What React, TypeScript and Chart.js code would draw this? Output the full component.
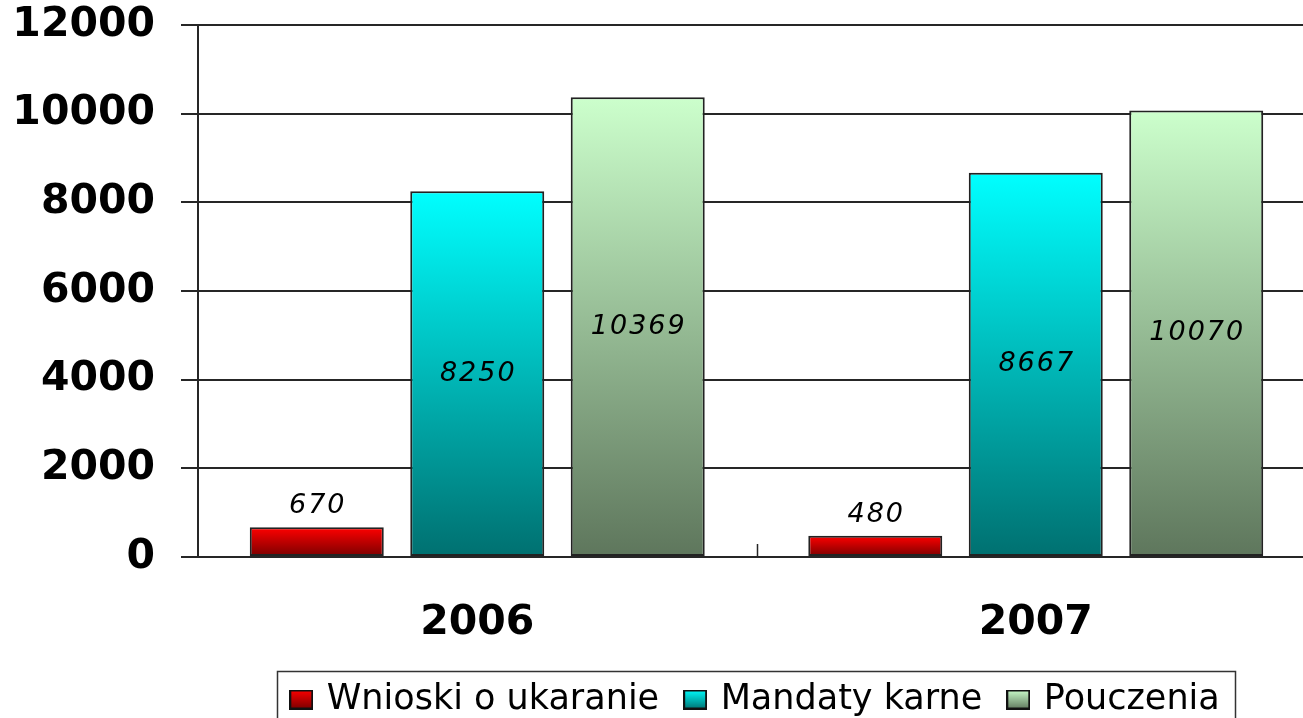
import React, { useEffect, useRef } from "react";
import { Chart, registerables } from "chart.js";

Chart.register(...registerables);

// ---- data ----
const categories: string[] = ["2006", "2007"];
const seriesNames: string[] = ["Wnioski o ukaranie", "Mandaty karne", "Pouczenia"];
const wnioski: number[] = [670, 480];
const mandaty: number[] = [8250, 8667];
const pouczenia: number[] = [10369, 10070];
const yMin = 0;
const yMax = 12000;
const yStep = 2000;

// ---- styles ----
const gradientStops: [string, string][] = [
  ["#ff0000", "#780000"],
  ["#00ffff", "#007070"],
  ["#ccffcc", "#5e765c"],
];
const CANVAS_W = 1315;
const CANVAS_H = 727;
const AXIS_COLOR = "#262626";
const LEGEND_FONT = 35;

function makeLegendImage(stops: [string, string]) {
  const c = document.createElement("canvas");
  c.width = 24;
  c.height = 20;
  const g = c.getContext("2d")!;
  const grad = g.createLinearGradient(0, 0, 0, 20);
  grad.addColorStop(0, stops[0]);
  grad.addColorStop(1, stops[1]);
  g.fillStyle = grad;
  g.fillRect(0, 0, 24, 20);
  g.strokeStyle = "#111";
  g.lineWidth = 2;
  g.strokeRect(1, 1, 22, 18);
  return c;
}

function barFill(idx: number) {
  return (ctx: any) => {
    const chart = ctx.chart;
    const y = chart.scales && chart.scales.y;
    if (!y || ctx.type !== "data" || !chart.chartArea) return gradientStops[idx][0];
    const v = ctx.raw as number;
    const top = y.getPixelForValue(v);
    const bottom = y.getPixelForValue(0);
    if (!isFinite(top) || !isFinite(bottom) || top === bottom) return gradientStops[idx][0];
    const g = chart.ctx.createLinearGradient(0, top, 0, bottom);
    g.addColorStop(0, gradientStops[idx][0]);
    g.addColorStop(1, gradientStops[idx][1]);
    return g;
  };
}

const valueLabels = {
  id: "valueLabels",
  afterDatasetsDraw(chart: any) {
    const ctx = chart.ctx;
    ctx.save();
    ctx.font = 'italic 27px "DejaVu Sans"';
    try {
      (ctx as any).letterSpacing = "2px";
    } catch (e) {}
    ctx.fillStyle = "#000";
    ctx.textAlign = "center";
    ctx.textBaseline = "middle";
    chart.data.datasets.forEach((ds: any, di: number) => {
      const meta = chart.getDatasetMeta(di);
      meta.data.forEach((el: any, i: number) => {
        const p = el.getProps(["x", "y", "base"], true);
        const h = p.base - p.y;
        const ty = h > 60 ? (p.y + p.base) / 2 : p.y - 21;
        ctx.fillText(String(ds.data[i]), p.x + 1, ty);
      });
    });
    ctx.restore();
  },
};

const extras = {
  id: "extras",
  afterDraw(chart: any) {
    const ctx = chart.ctx;
    const x = chart.scales.x;
    const area = chart.chartArea;
    ctx.save();
    ctx.strokeStyle = AXIS_COLOR;
    ctx.lineWidth = 1.5;
    for (let i = 1; i < x.ticks.length; i++) {
      const px = Math.round((x.getPixelForTick(i - 1) + x.getPixelForTick(i)) / 2) + 0.5;
      ctx.beginPath();
      ctx.moveTo(px, area.bottom);
      ctx.lineTo(px, area.bottom - 13);
      ctx.stroke();
    }
    // legend frame
    const lg = chart.legend;
    const hb = lg && lg.legendHitBoxes;
    if (hb && hb.length) {
      let l = Infinity, r = -Infinity, t = Infinity, b = -Infinity;
      hb.forEach((h: any) => {
        l = Math.min(l, h.left);
        r = Math.max(r, h.left + h.width);
        t = Math.min(t, h.top);
        b = Math.max(b, h.top + h.height);
      });
      ctx.strokeStyle = "#333";
      ctx.lineWidth = 1.5;
      ctx.strokeRect(Math.round(l - 16) + 0.5, Math.round(t - 11) + 0.5, Math.round(r - l + 32), Math.round(b - t + 30));
    }
    ctx.restore();
  },
};

export default function App() {
  const ref = useRef<HTMLCanvasElement | null>(null);
  useEffect(() => {
    if (!ref.current) return;
    const seriesValues = [wnioski, mandaty, pouczenia];
    const images = gradientStops.map((s) => makeLegendImage(s));
    const chart = new Chart(ref.current, {
      type: "bar",
      data: {
        labels: categories,
        datasets: seriesNames.map((name, i) => ({
          label: name,
          data: seriesValues[i],
          backgroundColor: barFill(i) as any,
          borderColor: "#222",
          borderWidth: 2,
          borderSkipped: false as any,
          barPercentage: 0.835,
          categoryPercentage: 0.862,
        })),
      },
      options: {
        responsive: false,
        animation: false,
        devicePixelRatio: 1,
        layout: { padding: { left: 0, right: 0, top: 0, bottom: 0 } },
        plugins: {
          tooltip: { enabled: false },
          title: { display: false },
          legend: {
            display: true,
            position: "bottom",
            fullSize: false,
            labels: {
              usePointStyle: true,
              boxWidth: 16,
              boxHeight: 20,
              padding: 28,
              color: "#000",
              font: { family: '"DejaVu Sans"', size: LEGEND_FONT, weight: "normal" },
              generateLabels: () =>
                seriesNames.map((name, i) => ({
                  text: name,
                  fillStyle: gradientStops[i][0],
                  strokeStyle: "#111",
                  lineWidth: 0,
                  hidden: false,
                  pointStyle: images[i] as any,
                  datasetIndex: i,
                  fontColor: "#000",
                })),
            },
          },
        },
        scales: {
          x: {
            grid: { display: false, drawTicks: false },
            border: { display: false },
            ticks: {
              color: "#000",
              padding: 42,
              font: { family: '"DejaVu Sans"', size: 41, weight: "bold" },
            },
            afterFit: (scale: any) => {
              scale.height = 97;
            },
          },
          y: {
            min: yMin,
            max: yMax,
            grid: {
              color: AXIS_COLOR,
              lineWidth: 2,
              tickLength: 17,
              drawTicks: true,
            },
            border: { display: true, color: AXIS_COLOR, width: 2 },
            ticks: {
              stepSize: yStep,
              color: "#000",
              padding: 26,
              font: { family: '"DejaVu Sans"', size: 41, weight: "bold" },
              callback: (v: any) => String(v),
            },
            afterFit: (scale: any) => {
              scale.width = 198;
              scale.paddingTop = 25;
              scale.paddingBottom = 25;
            },
          },
        },
      },
      plugins: [valueLabels, extras],
    });
    return () => chart.destroy();
  }, []);

  return (
    <div
      style={{
        position: "fixed",
        left: 0,
        top: 0,
        width: 1303,
        height: 718,
        overflow: "hidden",
        background: "#fff",
      }}
    >
      <canvas
        ref={ref}
        width={CANVAS_W}
        height={CANVAS_H}
        style={{ display: "block", width: CANVAS_W + "px", height: CANVAS_H + "px" }}
      />
    </div>
  );
}
